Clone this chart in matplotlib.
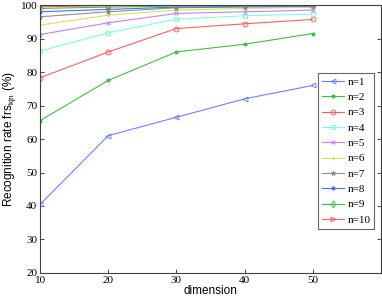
import matplotlib
matplotlib.use('Agg')
import matplotlib.pyplot as plt

dims = [10, 20, 30, 40, 50]
labels = ['n=1', 'n=2', 'n=3', 'n=4', 'n=5', 'n=6', 'n=7', 'n=8', 'n=9', 'n=10']
n1 = [40.5, 61.0, 66.5, 72.0, 76.0]
n2 = [65.5, 77.5, 86.0, 88.3, 91.5]
n3 = [78.3, 86.0, 93.0, 94.4, 95.7]
n4 = [86.3, 91.7, 95.8, 96.8, 97.3]
n5 = [91.2, 94.7, 97.5, 98.0, 98.5]
n6 = [94.0, 97.0, 98.5, 99.0, 99.3]
n7 = [96.5, 98.0, 99.2, 99.4, 99.6]
n8 = [98.0, 98.7, 99.4, 99.6, 99.7]
n9 = [99.0, 99.4, 99.7, 99.8, 99.9]
n10 = [99.5, 99.8, 99.9, 100.0, 100.0]
series = [n1, n2, n3, n4, n5, n6, n7, n8, n9, n10]

colors = ['#7080ff', '#40c040', '#ff6060', '#80ffd8', '#c080ff',
          '#d8e060', '#909090', '#4070ff', '#40c040', '#ff6060']
markers = ['<', '.', 'o', 's', 'x', '+', '*', '.', 'd', '>']
fills = ['none', 'full', 'none', 'none', 'full', 'full', 'full', 'full', 'none', 'none']

fig = plt.figure(figsize=(3.82, 2.98), dpi=100)
ax = fig.add_axes([0.105, 0.084, 0.892, 0.899])

for ys, lab, c, m, f in zip(series, labels, colors, markers, fills):
    ax.plot(dims, ys, color=c, marker=m, markersize=3.5 if m != '.' else 4.5,
            markerfacecolor='none' if f == 'none' else c,
            linewidth=0.8, markeredgewidth=0.7, label=lab)

ax.set_xlim(10, 60)
ax.set_ylim(20, 100)
ax.set_xticks([10, 20, 30, 40, 50])
ax.set_yticks(range(20, 101, 10))
ax.tick_params(direction='in', length=3, width=0.5, right=True, top=False,
               labelsize=8, pad=2)
for lbl in ax.get_xticklabels() + ax.get_yticklabels():
    lbl.set_fontfamily('Liberation Serif')
for s in ax.spines.values():
    s.set_linewidth(0.8)
    s.set_color('#404040')

ax.set_xlabel('dimension', fontfamily='Liberation Sans', fontsize=8.5, labelpad=0)
ax.set_ylabel('Recognition rate frs$_{\\mathregular{kjn}}$ (%)',
              fontfamily='Liberation Sans', fontsize=8.5, labelpad=2)

leg = ax.legend(loc='upper left', bbox_to_anchor=(0.815, 0.746), fancybox=False,
                prop={'family': 'Liberation Serif', 'size': 8},
                handlelength=2.0, labelspacing=0.5, borderpad=0.35,
                handletextpad=0.3, borderaxespad=0)
leg.get_frame().set_edgecolor('#404040')
leg.get_frame().set_linewidth(0.8)

fig.savefig('out.png', dpi=100)
